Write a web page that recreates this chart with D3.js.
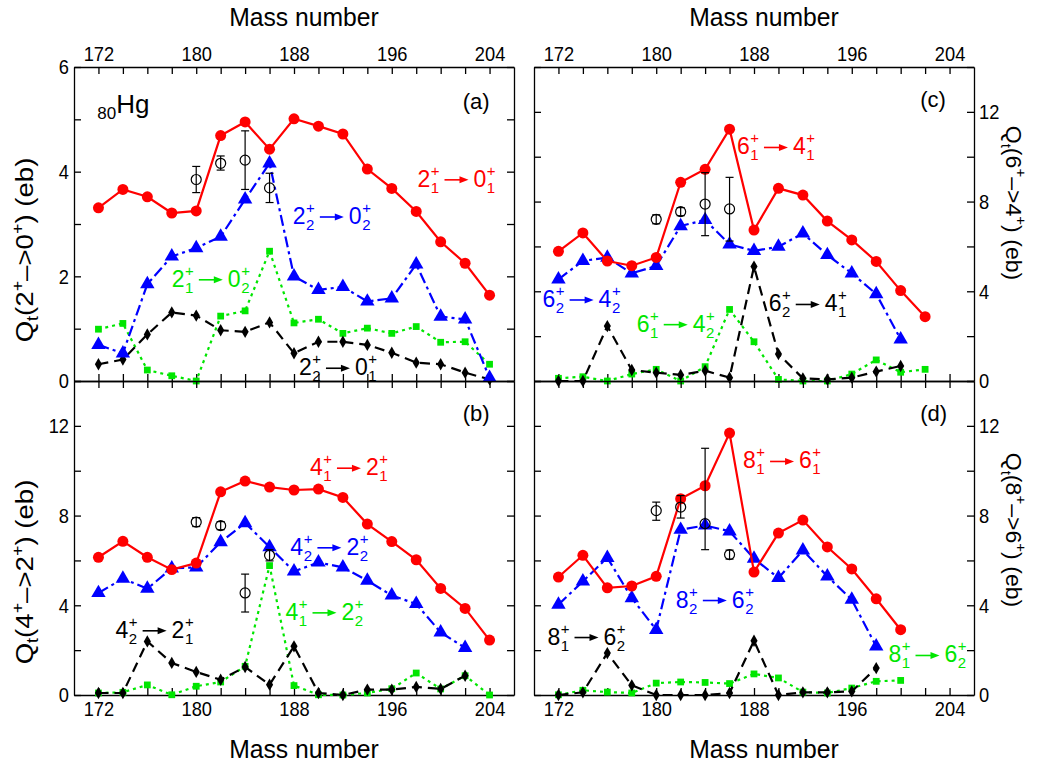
<!DOCTYPE html>
<html>
<head>
<meta charset="utf-8">
<title>Hg quadrupole moments</title>
<style>
  body { margin: 0; background: #fff; }
  text { font-family: "Liberation Sans", Arial, sans-serif; }
  .axis path, .axis line { stroke: #000; stroke-width: 1.3px; }
  .axis text { font-size: 21px; fill: #000; }
</style>
</head>
<body>
<svg id="chart" width="1043" height="769"></svg>
<script src="https://d3js.org/d3.v7.min.js"></script>
<script>
// mass numbers of the isotopes
const mass = [172, 174, 176, 178, 180, 182, 184, 186, 188, 190, 192, 194, 196, 198, 200, 202, 204];
const xLabels = [172, 180, 188, 196, 204];

// (a) Qt(2+ -> 0+)
const a_21_01 = [3.31, 3.66, 3.52, 3.21, 3.25, 4.69, 4.95, 4.43, 5.01, 4.87, 4.72, 4.05, 3.68, 3.24, 2.66, 2.25, 1.64];
const a_22_02 = [0.69, 0.53, 1.85, 2.38, 2.54, 2.76, 3.47, 4.16, 2.00, 1.74, 1.80, 1.52, 1.58, 2.23, 1.23, 1.18, 0.06];
const a_21_02 = [0.99, 1.10, 0.21, 0.10, 0.00, 1.24, 1.34, 2.48, 1.11, 1.18, 0.91, 1.01, 0.91, 1.04, 0.74, 0.75, 0.32];
const a_22_01 = [0.32, 0.41, 0.89, 1.31, 1.25, 0.97, 0.94, 1.12, 0.53, 0.75, 0.75, 0.69, 0.54, 0.35, 0.32, 0.16, 0.03];
const a_exp = [[180, 3.85, 3.60, 4.10], [182, 4.16, 4.03, 4.30], [184, 4.22, 3.66, 4.78], [186, 3.69, 3.41, 3.97]];

// (b) Qt(4+ -> 2+)
const b_41_21 = [6.14, 6.85, 6.14, 5.59, 5.88, 9.06, 9.54, 9.27, 9.14, 9.18, 8.81, 7.62, 6.84, 6.03, 4.75, 3.86, 2.45];
const b_42_22 = [4.55, 5.19, 4.74, 5.65, 5.69, 6.82, 7.67, 6.60, 5.51, 5.91, 5.69, 5.10, 4.44, 4.06, 2.79, 2.10];
const b_41_22 = [0.09, 0.12, 0.45, 0.01, 0.39, 0.58, 1.28, 5.77, 0.42, 0.01, 0.00, 0.09, 0.28, 0.98, 0.27, 0.86, 0.00];
const b_42_21 = [0.09, 0.09, 2.39, 1.43, 1.03, 0.68, 1.25, 0.46, 2.17, 0.09, 0.00, 0.24, 0.24, 0.36, 0.27, 0.86];
const b_exp = [[180, 7.71, 7.51, 7.91], [182, 7.55, 7.37, 7.73], [184, 4.55, 3.70, 5.39], [186, 6.23, 5.98, 6.48]];

// (c) Qt(6+ -> 4+)
const c_61_41 = [5.78, 6.60, 5.35, 5.14, 5.51, 8.86, 9.44, 11.23, 6.73, 8.59, 8.29, 7.13, 6.29, 5.33, 4.03, 2.87];
const c_62_42 = [4.53, 5.36, 5.50, 4.80, 5.13, 6.91, 7.18, 6.09, 5.80, 5.99, 6.58, 5.62, 4.80, 3.88, 1.86];
const c_61_42 = [0.12, 0.19, 0.00, 0.31, 0.52, 0.00, 0.64, 3.19, 1.75, 0.07, 0.00, 0.00, 0.31, 0.94, 0.39, 0.52];
const c_62_41 = [0.00, 0.00, 2.45, 0.49, 0.37, 0.27, 0.46, 0.15, 5.10, 1.20, 0.12, 0.07, 0.15, 0.42, 0.67];
const c_exp = [[180, 7.21, 7.01, 7.41], [182, 7.55, 7.37, 7.73], [184, 7.89, 6.48, 9.29], [186, 7.67, 6.24, 9.08]];

// (d) Qt(8+ -> 6+)
const d_81_61 = [5.26, 6.23, 4.78, 4.86, 5.29, 8.75, 9.33, 11.68, 5.48, 7.22, 7.80, 6.60, 5.62, 4.29, 2.91];
const d_82_62 = [4.03, 5.07, 6.12, 4.32, 2.91, 7.37, 7.56, 7.30, 6.08, 5.22, 6.45, 5.29, 4.25, 2.17];
const d_81_62g = [0.01, 0.21, 0.13, 0.09, 0.53, 0.58, 0.56, 0.51, 0.94, 0.76, 0.13, 0.09, 0.31, 0.61, 0.65];
const d_81_62k = [0.00, 0.12, 1.87, 0.43, 0.00, 0.00, 0.00, 0.09, 2.42, 0.00, 0.12, 0.12, 0.16, 1.20];
const d_exp = [[180, 8.22, 7.79, 8.60], [182, 8.38, 7.89, 8.89], [184, 7.64, 6.48, 11.0], [186, 6.26, 6.06, 6.46]];

const svg = d3.select('#chart');
const W = 440, H = 314;
const x0 = 74, x1 = 534, y0 = 67, y1 = 381;

const styles = {
  red:   { color: '#ff0000', dash: null,        symbol: d3.symbolCircle,   size: 95 },
  blue:  { color: '#0000ff', dash: '11,4,3,4',  symbol: d3.symbolTriangle, size: 90 },
  green: { color: '#00e600', dash: '3,4',       symbol: d3.symbolSquare,   size: 46 },
  black: { color: '#000000', dash: '10,6',      symbol: d3.symbolDiamond,  size: 44 }
};

const panels = [
  { id: 'a', left: x0, top: y0, ymax: 6, yTicks: [0, 1, 2, 3, 4, 5, 6], yLabels: [0, 2, 4, 6], yAxisSide: 'left', xAxisSide: 'top',
    series: [['green', a_21_02], ['black', a_22_01], ['blue', a_22_02], ['red', a_21_01]], exp: a_exp,
    labels: [['red', 198.1, 3.71, '2', '1', '0', '1'], ['blue', 187.9, 3.0, '2', '2', '0', '2'],
             ['green', 178.0, 1.8, '2', '1', '0', '2'], ['black', 188.4, 0.11, '2', '2', '0', '1']],
    tag: [201.8, 5.2] },
  { id: 'c', left: x1, top: y0, ymax: 14, yTicks: [0, 2, 4, 6, 8, 10, 12, 14], yLabels: [0, 4, 8, 12], yAxisSide: 'right', xAxisSide: 'top',
    series: [['green', c_61_42], ['black', c_62_41], ['blue', c_62_42], ['red', c_61_41]], exp: c_exp,
    labels: [['red', 186.6, 10.1, '6', '1', '4', '1'], ['blue', 170.7, 3.3, '6', '2', '4', '2'],
             ['black', 189.2, 3.1, '6', '2', '4', '1'], ['green', 178.4, 2.2, '6', '1', '4', '2']],
    tag: [201.6, 12.2] },
  { id: 'b', left: x0, top: y1, ymax: 14, yTicks: [0, 2, 4, 6, 8, 10, 12, 14], yLabels: [0, 4, 8, 12], yAxisSide: 'left', xAxisSide: 'bottom',
    series: [['green', b_41_22], ['black', b_42_21], ['blue', b_42_22], ['red', b_41_21]], exp: b_exp,
    labels: [['red', 189.3, 9.8, '4', '1', '2', '1'], ['blue', 187.7, 6.25, '4', '2', '2', '2'],
             ['green', 187.3, 3.35, '4', '1', '2', '2'], ['black', 173.4, 2.55, '4', '2', '2', '1']],
    tag: [201.8, 12.2] },
  { id: 'd', left: x1, top: y1, ymax: 14, yTicks: [0, 2, 4, 6, 8, 10, 12, 14], yLabels: [0, 4, 8, 12], yAxisSide: 'right', xAxisSide: 'bottom',
    series: [['green', d_81_62g], ['black', d_81_62k], ['blue', d_82_62], ['red', d_81_61]], exp: d_exp,
    labels: [['red', 187.1, 10.1, '8', '1', '6', '1'], ['blue', 181.6, 3.9, '8', '2', '6', '2'],
             ['black', 171.1, 2.25, '8', '1', '6', '2'], ['green', 199.0, 1.45, '8', '1', '6', '2']],
    tag: [201.6, 12.2] }
];

// squeeze a plain horizontal text a little (the original lettering is narrow)
function narrow(sel, k) {
  sel.each(function () {
    const len = this.getComputedTextLength();
    if (len > 0) d3.select(this).attr('lengthAdjust', 'spacingAndGlyphs').attr('textLength', len * k);
  });
}

// transition label like 2_1^+ -> 0_1^+
function transition(g, px, py, color, a, ai, b, bi) {
  const t = g.append('g').attr('transform', `translate(${px},${py})`).attr('fill', color);
  let cx = 0;
  function term(main, idx) {
    const m = t.append('text').attr('x', cx).attr('font-size', 23).text(main);
    cx += m.node().getComputedTextLength() + 0.5;
    const sp = t.append('text').attr('x', cx).attr('y', -11).attr('font-size', 15).text('+');
    const sb = t.append('text').attr('x', cx).attr('y', 6).attr('font-size', 15).text(idx);
    cx += Math.max(sp.node().getComputedTextLength(), sb.node().getComputedTextLength());
  }
  term(a, ai);
  cx += 5;
  t.append('line').attr('x1', cx).attr('x2', cx + 17).attr('y1', -7).attr('y2', -7)
    .attr('stroke', color).attr('stroke-width', 1.6);
  t.append('path').attr('d', `M${cx + 15},-10.5 L${cx + 24},-7 L${cx + 15},-3.5 Z`);
  cx += 29;
  term(b, bi);
}

panels.forEach(p => {
  const g = svg.append('g').attr('transform', `translate(${p.left},${p.top})`);
  const x = d3.scaleLinear().domain([170, 206]).range([0, W]);
  const y = d3.scaleLinear().domain([0, p.ymax]).range([H, 0]);

  // frame + ticks (all inward)
  const fmtX = d => xLabels.includes(d) ? d : '';
  const fmtY = d => p.yLabels.includes(d) ? d : '';
  const ax = [
    [d3.axisTop(x), 0, p.xAxisSide === 'top'],
    [d3.axisBottom(x), H, p.xAxisSide === 'bottom']
  ];
  ax.forEach(([axis, ty, lab]) => {
    g.append('g').attr('class', 'axis').attr('transform', `translate(0,${ty})`)
      .call(axis.tickValues(mass).tickSizeInner(-7).tickSizeOuter(0).tickPadding(6).tickFormat(lab ? fmtX : () => ''));
  });
  const ay = [
    [d3.axisLeft(y), 0, p.yAxisSide === 'left'],
    [d3.axisRight(y), W, p.yAxisSide === 'right']
  ];
  ay.forEach(([axis, tx, lab]) => {
    g.append('g').attr('class', 'axis').attr('transform', `translate(${tx},0)`)
      .call(axis.tickValues(p.yTicks).tickSizeInner(-7).tickSizeOuter(0).tickPadding(5).tickFormat(lab ? fmtY : () => ''));
  });
  g.selectAll('.axis .domain').attr('stroke-width', 1.5);
  narrow(g.selectAll('.axis text'), 0.87);

  // series
  p.series.forEach(([key, vals]) => {
    const s = styles[key];
    const pts = vals.map((v, i) => [mass[i], v]);
    g.append('path').datum(pts)
      .attr('fill', 'none').attr('stroke', s.color).attr('stroke-width', 2.2)
      .attr('stroke-dasharray', s.dash)
      .attr('d', d3.line().x(d => x(d[0])).y(d => y(d[1])));
    g.selectAll(null).data(pts).enter().append('path')
      .attr('transform', d => `translate(${x(d[0])},${y(d[1])})`)
      .attr('d', d3.symbol().type(s.symbol).size(s.size))
      .attr('fill', s.color);
  });

  // experimental points (open circles, bar visible through them)
  const e = g.append('g').attr('stroke', '#000').attr('stroke-width', 1.2).attr('fill', 'none');
  p.exp.forEach(([m, v, lo, hi]) => {
    const cx = x(m);
    e.append('line').attr('x1', cx).attr('x2', cx).attr('y1', y(lo)).attr('y2', y(hi));
    e.append('line').attr('x1', cx - 4).attr('x2', cx + 4).attr('y1', y(lo)).attr('y2', y(lo));
    e.append('line').attr('x1', cx - 4).attr('x2', cx + 4).attr('y1', y(hi)).attr('y2', y(hi));
    e.append('circle').attr('cx', cx).attr('cy', y(v)).attr('r', 5);
  });

  p.labels.forEach(([key, m, v, a, ai, b, bi]) => transition(g, x(m), y(v), styles[key].color, a, ai, b, bi));

  g.append('text').attr('x', x(p.tag[0])).attr('y', y(p.tag[1])).attr('font-size', 22).text(`(${p.id})`);

  if (p.id === 'a') {
    const hg = g.append('text').attr('x', x(171.9)).attr('y', y(5.0));
    hg.append('tspan').attr('font-size', 17).attr('dy', 0).text('80');
    hg.append('tspan').attr('font-size', 26).attr('dy', -6).text('Hg');
  }
});

// axis titles
[[x0 + W / 2 + 10, 26], [x1 + W / 2 + 10, 26], [x0 + W / 2 + 10, 758], [x1 + W / 2 + 10, 758]].forEach(([tx, ty]) => {
  svg.append('text').attr('class', 'mt').attr('x', tx).attr('y', ty).attr('text-anchor', 'middle').attr('font-size', 26).text('Mass number');
});
narrow(svg.selectAll('.mt'), 0.95);

function yTitle(tx, ty, rot, n1, n2, fs, stretch) {
  const t = svg.append('text').attr('transform', `translate(${tx},${ty}) rotate(${rot}) scale(${stretch},1)`)
    .attr('text-anchor', 'middle').attr('font-size', fs);
  t.append('tspan').text('Q');
  t.append('tspan').attr('font-size', fs * 0.65).attr('dy', 5).text('t');
  t.append('tspan').attr('dy', -5).text('(' + n1);
  t.append('tspan').attr('font-size', fs * 0.65).attr('dy', -10).text('+');
  t.append('tspan').attr('dy', 10).text('\u2013>' + n2);
  t.append('tspan').attr('font-size', fs * 0.65).attr('dy', -10).text('+');
  t.append('tspan').attr('dy', 10).text(') (eb)');
}
yTitle(33, 250, -90, '2', '0', 24, 1.15);
yTitle(33, 572, -90, '4', '2', 24, 1.15);
yTitle(1006, 203, 90, '6', '4', 22, 1.05);
yTitle(1006, 530, 90, '8', '6', 22, 1.05);
</script>
</body>
</html>
